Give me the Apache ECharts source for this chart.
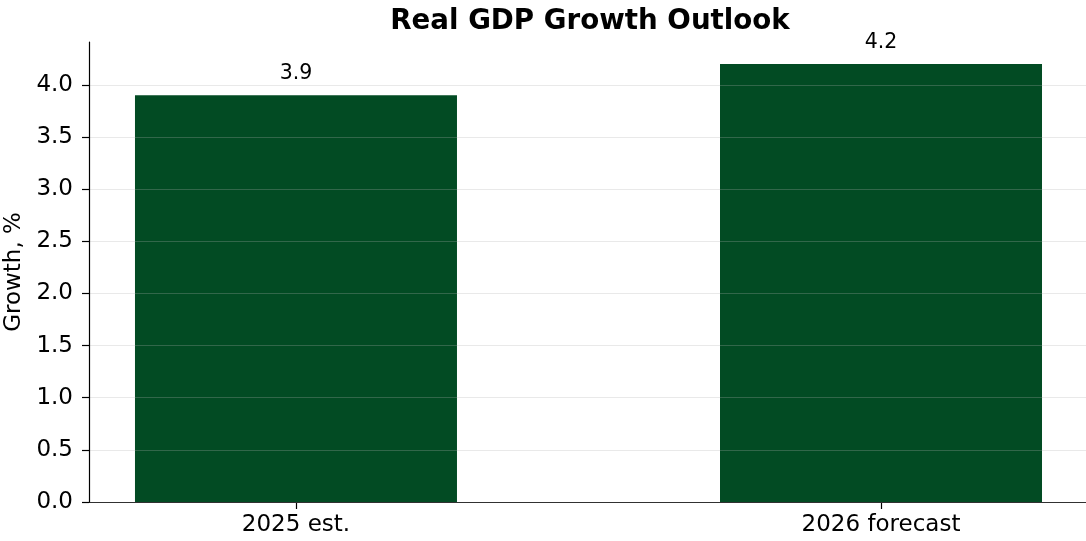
<!DOCTYPE html>
<html><head><meta charset="utf-8">
<script src="https://cdn.jsdelivr.net/npm/echarts@6/dist/echarts.min.js"></script>
<style>html,body{margin:0;padding:0;background:#fff}#c{width:1086px;height:541px}</style>
</head><body><div id="c"></div>
<script>
const categories = ['2025 est.', '2026 forecast'];
const growth = [3.9, 4.2];
const yTicks = [0, 0.5, 1.0, 1.5, 2.0, 2.5, 3.0, 3.5, 4.0];

const FONT = 'DejaVu Sans';
const chart = echarts.init(document.getElementById('c'), null, {renderer: 'canvas'});
const idx = categories.map((_, i) => i);
chart.setOption({
  animation: false,
  backgroundColor: '#ffffff',
  title: {
    text: 'Real GDP Growth Outlook', left: 585, top: 3, textAlign: 'center',
    textStyle: {fontFamily: FONT, fontWeight: 'bold', fontSize: 27.7, color: '#000'}
  },
  grid: {left: 89, right: 0, top: 42, bottom: 39, containLabel: false, outerBoundsMode: 'none'},
  xAxis: {
    type: 'value', min: -0.3538, max: 1.3504,
    axisLine: {show: true, onZero: false, lineStyle: {color: '#000', width: 1.2}},
    axisTick: {show: true, length: 7, lineStyle: {color: '#000', width: 1.2}, customValues: idx},
    axisLabel: {customValues: idx, formatter: v => categories[Math.round(v)] || '',
      fontFamily: FONT, fontSize: 23, color: '#000', margin: 12},
    splitLine: {show: false}
  },
  yAxis: {
    type: 'value', min: 0, max: 4.41, interval: 0.5, z: 5,
    name: 'Growth, %', nameLocation: 'middle', nameGap: 62,
    nameTextStyle: {fontFamily: FONT, fontSize: 23, color: '#000'},
    axisLine: {show: true, onZero: false, lineStyle: {color: '#000', width: 1.2}},
    axisTick: {show: true, length: 7, lineStyle: {color: '#000', width: 1.2}, customValues: yTicks},
    axisLabel: {customValues: yTicks, formatter: v => v.toFixed(1),
      fontFamily: FONT, fontSize: 23, color: '#000', margin: 16},
    splitLine: {show: true, lineStyle: {color: 'rgba(176,176,176,0.28)', width: 1.2}}
  },
  series: [{
    type: 'bar', barWidth: 322, z: 2,
    data: growth.map((v, i) => [i, v]),
    itemStyle: {color: '#024b23'},
    label: {show: true, position: 'top', distance: 11, formatter: p => p.value[1].toFixed(1),
      fontFamily: FONT, fontSize: 20.5, color: '#000'}
  }]
});
</script></body></html>
